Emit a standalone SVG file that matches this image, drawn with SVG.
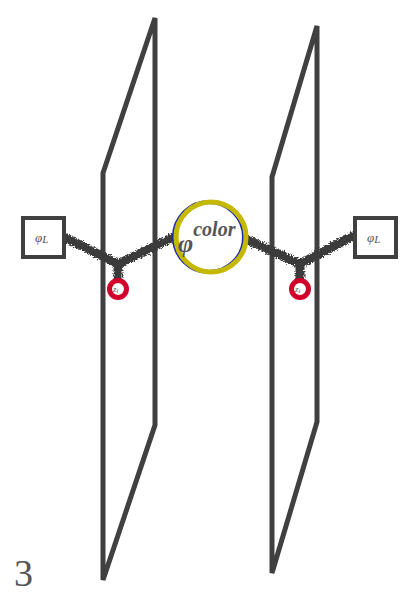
<svg xmlns="http://www.w3.org/2000/svg" width="411" height="595" viewBox="0 0 411 595">
<style>
.plane{fill:none;stroke:#404040;stroke-width:5;stroke-linejoin:miter}
.box{fill:#fff;stroke:#404040;stroke-width:4}
.edge{fill:none;stroke:#3a3a3a;stroke-width:9;stroke-linecap:round;stroke-linejoin:round}
.z{fill:#fff;stroke:#d0002a;stroke-width:5}
.lbl{font-family:"Liberation Serif",serif;font-style:italic;fill:#555}
</style>
<defs>
<filter id="rough" filterUnits="userSpaceOnUse" x="0" y="180" width="411" height="120">
<feTurbulence type="fractalNoise" baseFrequency="0.7" numOctaves="2" seed="3" result="n"/>
<feDisplacementMap in="SourceGraphic" in2="n" scale="6" xChannelSelector="R" yChannelSelector="G"/>
</filter>
</defs>
<g id="plane-left"><path class="plane" d="M103,173 L155,18 L155,425 L103,580 Z"/></g>
<g id="plane-right"><path class="plane" d="M272,177 L317,26 L317,422 L272,573 Z"/></g>
<g id="connectors" filter="url(#rough)">
<path class="edge" d="M66,238 L118,264 L172,238"/>
<path class="edge" d="M118,264 L118,281"/>
<path class="edge" d="M248,240 L300,264 L353,236"/>
<path class="edge" d="M300,264 L300,281"/>
</g>
<g id="box-left"><rect class="box" x="23" y="218" width="41" height="39"/><text class="lbl" x="35" y="242" font-size="13">φ<tspan font-size="11" dy="1">L</tspan></text></g>
<g id="box-right"><rect class="box" x="355" y="218" width="41" height="39"/><text class="lbl" x="367" y="242" font-size="13">φ<tspan font-size="11" dy="1">L</tspan></text></g>
<g id="z-left"><circle class="z" cx="118" cy="289" r="8.5"/><text class="lbl" x="113" y="292" font-size="9">z<tspan font-size="7" dy="1">i</tspan></text></g>
<g id="z-right"><circle class="z" cx="300" cy="289" r="8.5"/><text class="lbl" x="295" y="292" font-size="9">z<tspan font-size="7" dy="1">i</tspan></text></g>
<g id="color">
<circle cx="209" cy="237" r="35" fill="#fff" stroke="#1a2aa8" stroke-width="4"/>
<circle cx="211" cy="237" r="35" fill="none" stroke="#c4b800" stroke-width="5"/>
<text class="lbl" x="178" y="252" font-size="26" font-weight="bold">φ<tspan font-size="20" dy="-16">color</tspan></text>
</g>
<text x="14" y="586" font-family="Liberation Serif,serif" font-size="38" fill="#555">3</text>
</svg>
